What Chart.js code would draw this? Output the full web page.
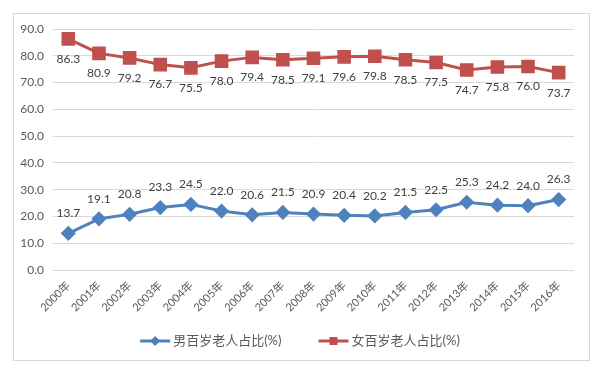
<!DOCTYPE html>
<html>
<head>
<meta charset="utf-8">
<script src="https://cdn.jsdelivr.net/npm/chart.js@4/dist/chart.umd.min.js"></script>
<style>
  html, body { margin: 0; padding: 0; background: #fff; }
  #box { position: relative; width: 600px; height: 374px; }
</style>
</head>
<body>
<div id="box"><canvas id="centChart"></canvas></div>
<script>
'use strict';

const years = ['2000年', '2001年', '2002年', '2003年', '2004年', '2005年', '2006年', '2007年', '2008年',
  '2009年', '2010年', '2011年', '2012年', '2013年', '2014年', '2015年', '2016年'];
const maleShare = [13.7, 19.1, 20.8, 23.3, 24.5, 22.0, 20.6, 21.5, 20.9, 20.4, 20.2, 21.5, 22.5, 25.3, 24.2, 24.0, 26.3];
const femaleShare = [86.3, 80.9, 79.2, 76.7, 75.5, 78.0, 79.4, 78.5, 79.1, 79.6, 79.8, 78.5, 77.5, 74.7, 75.8, 76.0, 73.7];
const seriesNames = ['男百岁老人占比(%)', '女百岁老人占比(%)'];

const FONT = 'Lato, "Noto Sans CJK SC", sans-serif';
const BLUE = '#4F81BD';
const RED = '#C0504D';

// value labels: male above the point, female below
const valueLabels = {
  id: 'valueLabels',
  afterDatasetsDraw(chart) {
    const ctx = chart.ctx;
    ctx.save();
    ctx.font = '12px ' + FONT;
    ctx.fillStyle = '#404040';
    ctx.textAlign = 'center';
    ctx.textBaseline = 'middle';
    chart.data.datasets.forEach((ds, i) => {
      const meta = chart.getDatasetMeta(i);
      const dy = i === 0 ? -20 : 20;
      meta.data.forEach((pt, j) => {
        ctx.fillText(ds.data[j].toFixed(1), pt.x, pt.y + dy);
      });
    });
    ctx.restore();
  }
};

// outer frame + legend with line-and-marker symbols
const frameLegend = {
  id: 'frameLegend',
  afterDraw(chart) {
    const ctx = chart.ctx;
    ctx.save();
    ctx.strokeStyle = '#d9d9d9';
    ctx.lineWidth = 1;
    ctx.strokeRect(13.5, 13.5, chart.width - 24, chart.height - 27);

    ctx.font = '13px ' + FONT;
    const sym = 30, gapText = 3, gapItem = 37;
    const widths = chart.data.datasets.map(ds => sym + gapText + ctx.measureText(ds.label).width);
    let x = chart.width / 2 - (widths[0] + gapItem + widths[1]) / 2;
    const y = chart.height - 33;
    chart.data.datasets.forEach((ds, i) => {
      ctx.strokeStyle = ds.borderColor;
      ctx.lineWidth = 3;
      ctx.beginPath();
      ctx.moveTo(x, y);
      ctx.lineTo(x + sym, y);
      ctx.stroke();
      ctx.fillStyle = ds.borderColor;
      if (i === 0) {
        ctx.beginPath();
        ctx.moveTo(x + sym / 2, y - 5);
        ctx.lineTo(x + sym / 2 + 5, y);
        ctx.lineTo(x + sym / 2, y + 5);
        ctx.lineTo(x + sym / 2 - 5, y);
        ctx.closePath();
        ctx.fill();
      } else {
        ctx.fillRect(x + sym / 2 - 4, y - 4, 8, 8);
      }
      ctx.fillStyle = '#595959';
      ctx.textAlign = 'left';
      ctx.textBaseline = 'middle';
      ctx.fillText(ds.label, x + sym + gapText, y);
      x += widths[i] + gapItem;
    });
    ctx.restore();
  }
};

const chartConfig = {
  type: 'line',
  data: {
    labels: years,
    datasets: [{
      label: seriesNames[0],
      data: maleShare,
      borderColor: BLUE,
      backgroundColor: BLUE,
      borderWidth: 3,
      pointStyle: 'rectRot',
      pointRadius: 5.5,
      pointHoverRadius: 5.5,
      tension: 0
    }, {
      label: seriesNames[1],
      data: femaleShare,
      borderColor: RED,
      backgroundColor: RED,
      borderWidth: 3,
      pointStyle: 'rect',
      pointRadius: 7.5,
      pointHoverRadius: 7.5,
      tension: 0
    }]
  },
  options: {
    responsive: false,
    animation: false,
    layout: { padding: { top: 29, right: 26, bottom: 54, left: 0 } },
    plugins: {
      legend: { display: false },
      tooltip: { enabled: false }
    },
    scales: {
      x: {
        offset: true,
        grid: { display: false, drawTicks: false },
        border: { display: false },
        ticks: {
          color: '#595959',
          font: { family: FONT, size: 11 },
          minRotation: 45,
          maxRotation: 45,
          padding: 9,
          autoSkip: false
        },
        afterFit(scale) { scale.height = 50; }
      },
      y: {
        min: 0,
        max: 90,
        grid: { color: '#d9d9d9', drawTicks: false },
        border: { display: false },
        ticks: {
          stepSize: 10,
          color: '#595959',
          font: { family: FONT, size: 12 },
          padding: 9,
          callback: v => v.toFixed(1)
        },
        afterFit(scale) { scale.width = 53; }
      }
    }
  },
  plugins: [valueLabels, frameLegend]
};

const canvas = document.getElementById('centChart');
canvas.width = 600;
canvas.height = 374;
const centChart = new Chart(canvas.getContext('2d'), chartConfig);
</script>
</body>
</html>
